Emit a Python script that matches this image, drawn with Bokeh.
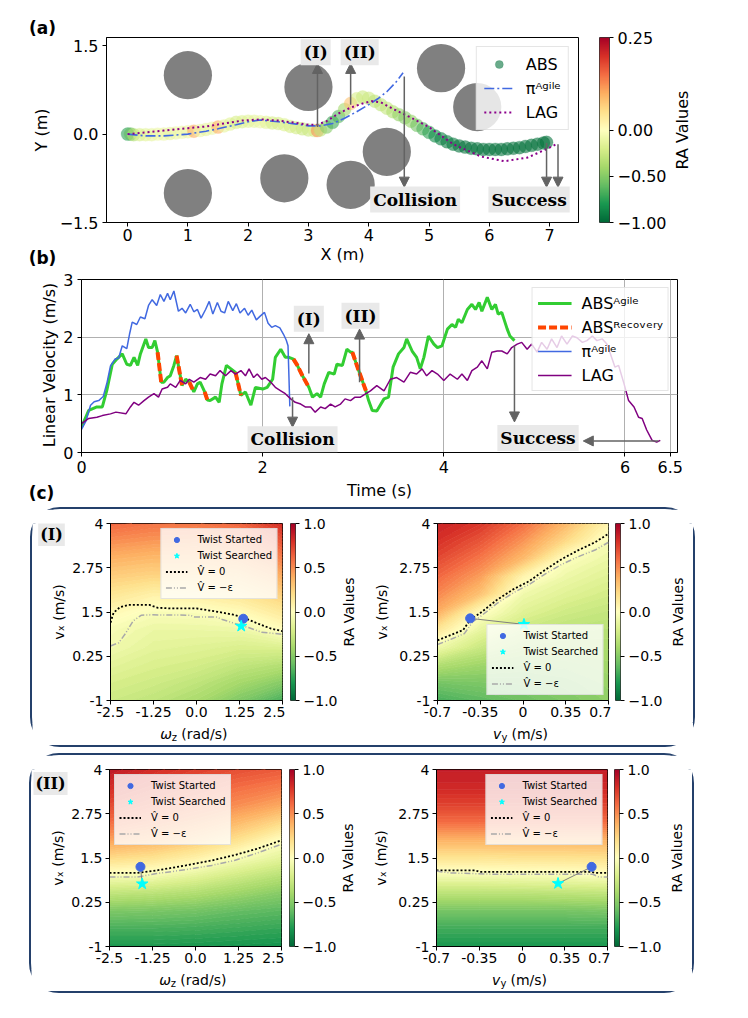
import math
import numpy as np
from bokeh.plotting import figure
from bokeh.layouts import row, column
from bokeh.models import (Range1d, FixedTicker, Label, Arrow, NormalHead, Legend,
                          LegendItem, LinearColorMapper, LinearAxis)
from bokeh.embed import file_html
from bokeh.resources import INLINE

FONT = "DejaVu Sans"
SERIF = "DejaVu Serif"
ARROW_COLOR = "#636363"
TAG_BG = "#e9e9e9"

# ---------------- colormap (RdYlGn reversed: low -> high) ----------------
CMAP_ANCHORS = ["#006837", "#1a9850", "#66bd63", "#a6d96a", "#d9ef8b", "#ffffbf",
                "#fee08b", "#fdae61", "#f46d43", "#d73027", "#a50026"]


def make_palette(anchors, n=256):
    rgb = np.array([[int(c[i:i + 2], 16) for i in (1, 3, 5)] for c in anchors], dtype=float)
    pos = np.linspace(0.0, 1.0, len(anchors))
    t = np.linspace(0.0, 1.0, n)
    cols = np.stack([np.interp(t, pos, rgb[:, k]) for k in range(3)], axis=1)
    return ["#%02x%02x%02x" % tuple(int(round(v)) for v in c) for c in cols]


PAL = make_palette(CMAP_ANCHORS)

# ---------------- panel (a) data ----------------
OBS_X = [1.0, 1.0, 3.0, 2.6, 3.7, 4.3, 5.2, 5.8]
OBS_Y = [1.0, -1.0, 0.8, -0.75, -0.86, -0.3, 1.12, 0.46]
OBS_R = 0.4

ABS_X = [0.00, 0.05, 0.10, 0.20, 0.30, 0.40, 0.50, 0.60, 0.70, 0.80, 0.90, 1.00, 1.10, 1.20,
         1.30, 1.40, 1.50, 1.60, 1.70, 1.80, 1.90, 2.00, 2.10, 2.20, 2.30, 2.40, 2.50, 2.60,
         2.70, 2.80, 2.90, 3.00, 3.10, 3.15, 3.20, 3.30, 3.40, 3.50, 3.60, 3.70, 3.80, 3.90,
         4.00, 4.10, 4.20, 4.30, 4.40, 4.50, 4.60, 4.70, 4.80, 4.90, 5.00, 5.10, 5.20, 5.30,
         5.40, 5.50, 5.60, 5.70, 5.80, 5.90, 6.00, 6.10, 6.20, 6.30, 6.40, 6.50, 6.60, 6.70,
         6.80, 6.90, 6.95]
ABS_Y = [0.00, 0.00, -0.01, -0.01, -0.01, -0.01, 0.00, 0.00, 0.01, 0.02, 0.03, 0.04, 0.05, 0.06,
         0.08, 0.10, 0.12, 0.14, 0.17, 0.20, 0.21, 0.22, 0.22, 0.21, 0.20, 0.19, 0.18, 0.16,
         0.13, 0.11, 0.09, 0.07, 0.06, 0.06, 0.07, 0.12, 0.20, 0.30, 0.42, 0.52, 0.60, 0.63,
         0.61, 0.56, 0.50, 0.44, 0.38, 0.33, 0.28, 0.22, 0.15, 0.09, 0.03, -0.03, -0.08, -0.13,
         -0.17, -0.20, -0.22, -0.24, -0.25, -0.26, -0.26, -0.26, -0.26, -0.25, -0.24, -0.23,
         -0.21, -0.19, -0.17, -0.15, -0.14]
ABS_RA = [-0.75, -0.6, -0.35, -0.2, -0.15, -0.12, -0.1, -0.1, -0.12, -0.1, -0.08, -0.1, 0.1,
          -0.1, -0.12, -0.1, 0.1, -0.12, -0.15, -0.2, -0.18, -0.15, -0.12, -0.1, -0.15, -0.2,
          -0.2, -0.18, -0.2, -0.22, -0.25, -0.25, -0.2, 0.12, -0.3, -0.5, -0.7, -0.65, -0.4,
          0.08, -0.2, -0.25, -0.25, -0.3, -0.3, -0.28, -0.35, -0.45, -0.5, -0.45, -0.55, -0.65,
          -0.75, -0.85, -0.9, -0.92, -0.92, -0.95, -0.95, -0.95, -0.95, -0.95, -0.95, -0.95,
          -0.95, -0.95, -0.95, -0.95, -0.95, -0.95, -0.95, -0.95, -0.95]

PI_X = [0.0, 0.3, 0.6, 1.0, 1.3, 1.5, 1.8, 2.0, 2.2, 2.5, 2.8, 3.0, 3.2, 3.4, 3.6, 3.8, 4.0,
        4.15, 4.3, 4.45, 4.57]
PI_Y = [0.0, -0.03, -0.03, 0.0, 0.05, 0.09, 0.16, 0.21, 0.24, 0.21, 0.17, 0.14, 0.14, 0.18,
        0.27, 0.38, 0.5, 0.6, 0.72, 0.88, 1.04]

LAG_X = [0.0, 0.3, 0.6, 1.0, 1.3, 1.6, 1.9, 2.2, 2.5, 2.8, 3.0, 3.15, 3.3, 3.5, 3.7, 3.9, 4.05,
         4.2, 4.4, 4.7, 5.0, 5.4, 5.86, 6.25, 6.63, 6.96, 7.13]
LAG_Y = [0.0, 0.03, 0.06, 0.1, 0.13, 0.18, 0.23, 0.25, 0.23, 0.19, 0.16, 0.16, 0.22, 0.35,
         0.45, 0.52, 0.56, 0.54, 0.43, 0.28, 0.12, -0.17, -0.38, -0.46, -0.40, -0.25, -0.16]

RA_MIN, RA_CENTER, RA_MAX = -1.0, 0.0, 0.25
CB_A_TICKS = [-1.0, -0.5, 0.0, 0.25]
CB_A_LABELS = ["\u22121.00", "\u22120.50", "0.00", "0.25"]

A_ARROWS = [(3.15, 0.12, 3.15, 1.2), (3.7, 0.5, 3.7, 1.2), (4.59, 0.98, 4.59, -0.9),
            (6.95, -0.15, 6.95, -0.9), (7.14, -0.17, 7.14, -0.9)]
A_TAGS = [(3.12, 1.39, "(I)"), (3.85, 1.39, "(II)"), (4.77, -1.11, "Collision"),
          (6.66, -1.11, "Success")]

# ---------------- panel (b) data ----------------
T_ABS = [0.00, 0.08, 0.17, 0.23, 0.28, 0.34, 0.39, 0.45, 0.50, 0.54,
         0.58, 0.62, 0.65, 0.71, 0.74, 0.78, 0.81, 0.84, 0.88, 0.91,
         0.95, 0.98, 1.02, 1.05, 1.11, 1.15, 1.19, 1.24, 1.28, 1.31,
         1.36, 1.39, 1.42, 1.48, 1.52, 1.55, 1.60, 1.65, 1.70, 1.76,
         1.81, 1.87, 1.92, 2.00, 2.05, 2.11, 2.14, 2.20, 2.25, 2.29,
         2.34, 2.38, 2.44, 2.51, 2.55, 2.60, 2.64, 2.68, 2.73, 2.79,
         2.82, 2.88, 2.93, 2.97, 2.99, 3.06, 3.14, 3.17, 3.21, 3.26,
         3.34, 3.39, 3.44, 3.50, 3.56, 3.59, 3.65, 3.70, 3.74, 3.78,
         3.83, 3.89, 3.93, 3.98, 4.04, 4.09, 4.13, 4.16, 4.20, 4.26,
         4.31, 4.35, 4.39, 4.42, 4.48, 4.53, 4.57, 4.60, 4.64, 4.70,
         4.73, 4.78]
V_ABS = [0.44, 0.73, 0.79, 0.79, 1.08, 1.53, 1.62, 1.71, 1.53, 1.51,
         1.65, 1.51, 1.71, 1.97, 1.82, 1.82, 1.94, 1.74, 1.22, 1.22,
         1.30, 1.33, 1.51, 1.68, 1.16, 1.27, 1.22, 1.05, 1.19, 1.22,
         1.05, 0.91, 0.90, 0.96, 0.87, 1.19, 1.51, 1.45, 1.39, 0.99,
         1.05, 0.82, 1.13, 1.10, 1.13, 1.27, 1.65, 1.79, 1.65, 1.65,
         1.62, 1.52, 1.33, 1.13, 0.96, 1.02, 0.96, 1.19, 1.39, 1.36,
         1.53, 1.51, 1.79, 1.74, 1.74, 1.42, 1.07, 0.90, 0.73, 0.72,
         0.93, 0.96, 1.48, 1.71, 1.82, 1.97, 1.76, 1.65, 1.45, 1.65,
         2.02, 1.88, 1.82, 1.85, 2.14, 2.22, 2.17, 2.31, 2.25, 2.48,
         2.57, 2.48, 2.60, 2.45, 2.69, 2.48, 2.57, 2.40, 2.43, 2.14,
         2.02, 1.94]
REC_T0 = [0.84, 1.05, 1.19, 1.36, 1.70, 2.34, 2.99]
REC_T1 = [0.88, 1.11, 1.24, 1.39, 1.76, 2.51, 3.14]

T_PI = [0.00, 0.05, 0.10, 0.14, 0.19, 0.24, 0.28, 0.32, 0.37, 0.41,
        0.45, 0.50, 0.53, 0.56, 0.61, 0.65, 0.70, 0.74, 0.78, 0.83,
        0.87, 0.91, 0.95, 0.98, 1.02, 1.07, 1.11, 1.15, 1.20, 1.24,
        1.28, 1.32, 1.37, 1.41, 1.45, 1.50, 1.54, 1.58, 1.62, 1.67,
        1.71, 1.75, 1.80, 1.84, 1.88, 1.93, 1.97, 2.02, 2.06, 2.10,
        2.14, 2.19, 2.23, 2.26, 2.28, 2.30]
V_PI = [0.40, 0.55, 0.82, 0.88, 0.90, 0.97, 1.20, 1.50, 1.62, 1.64,
        1.85, 1.80, 2.05, 2.26, 2.22, 2.35, 2.32, 2.55, 2.65, 2.55,
        2.74, 2.62, 2.76, 2.65, 2.80, 2.45, 2.50, 2.42, 2.57, 2.44,
        2.48, 2.33, 2.48, 2.62, 2.40, 2.60, 2.45, 2.42, 2.62, 2.46,
        2.58, 2.42, 2.50, 2.38, 2.47, 2.30, 2.36, 2.43, 2.24, 2.17,
        2.20, 2.16, 2.05, 1.95, 1.85, 0.80]

T_LAG = [0.00, 0.08, 0.17, 0.23, 0.32, 0.38, 0.49, 0.54, 0.58, 0.63,
         0.69, 0.74, 0.80, 0.85, 0.89, 0.95, 0.98, 1.04, 1.09, 1.15,
         1.19, 1.24, 1.31, 1.37, 1.42, 1.48, 1.53, 1.59, 1.65, 1.70,
         1.76, 1.81, 1.85, 1.90, 1.94, 1.99, 2.03, 2.09, 2.14, 2.20,
         2.25, 2.31, 2.36, 2.42, 2.47, 2.53, 2.58, 2.64, 2.69, 2.75,
         2.80, 2.86, 2.91, 2.97, 3.02, 3.08, 3.14, 3.19, 3.26, 3.34,
         3.41, 3.48, 3.56, 3.63, 3.70, 3.76, 3.81, 3.87, 3.93, 4.00,
         4.07, 4.15, 4.20, 4.26, 4.31, 4.37, 4.42, 4.48, 4.53, 4.59,
         4.64, 4.70, 4.75, 4.81, 4.86, 4.92, 4.97, 5.03, 5.08, 5.14,
         5.19, 5.25, 5.30, 5.36, 5.42, 5.47, 5.53, 5.58, 5.64, 5.69,
         5.75, 5.80, 5.84, 5.89, 5.93, 5.99, 6.04, 6.10, 6.15, 6.19,
         6.24, 6.30, 6.35, 6.39]
V_LAG = [0.50, 0.59, 0.61, 0.64, 0.67, 0.70, 0.67, 0.79, 0.87, 0.82,
         0.90, 0.96, 1.02, 0.96, 1.10, 1.13, 1.19, 1.13, 1.25, 1.19,
         1.27, 1.22, 1.30, 1.27, 1.36, 1.33, 1.42, 1.33, 1.42, 1.36,
         1.42, 1.33, 1.45, 1.30, 1.36, 1.27, 1.30, 1.22, 1.13, 1.07,
         1.02, 0.93, 0.87, 0.84, 0.79, 0.79, 0.70, 0.79, 0.76, 0.84,
         0.79, 0.84, 0.93, 0.90, 0.96, 0.96, 1.02, 1.07, 1.16, 1.07,
         1.27, 1.30, 1.22, 1.39, 1.36, 1.45, 1.33, 1.42, 1.36, 1.25,
         1.36, 1.27, 1.36, 1.25, 1.42, 1.48, 1.59, 1.45, 1.74, 1.76,
         1.76, 1.71, 1.82, 1.88, 1.91, 1.79, 1.88, 1.74, 1.91, 1.79,
         1.97, 1.82, 2.02, 1.88, 2.02, 1.99, 1.91, 1.94, 2.02, 1.94,
         1.97, 1.88, 1.71, 1.48, 1.51, 1.19, 0.90, 0.79, 0.61, 0.59,
         0.39, 0.21, 0.18, 0.21]

B_ARROWS = [(2.51, 1.37, 2.51, 2.06), (3.07, 1.22, 3.07, 2.14), (2.33, 0.96, 2.33, 0.44),
            (4.78, 1.85, 4.78, 0.53), (6.37, 0.2, 5.54, 0.2)]
B_TAGS = [(2.51, 2.32, "(I)"), (3.08, 2.37, "(II)"), (2.33, 0.23, "Collision"),
          (5.04, 0.25, "Success")]

# ---------------- panel (c) data ----------------
VX_SAMPLES = [-1.0, -0.5, 0.0, 0.5, 1.0, 1.5, 2.0, 2.5, 3.0, 3.5, 4.0]
WZ_SAMPLES = [-2.5, -1.25, 0.0, 1.25, 2.5]
VY_SAMPLES = [-0.7, -0.35, 0.0, 0.35, 0.7]

# rows: v_x from -1 (bottom) to 4 (top); columns: x samples
HM_I_WZ = [[-0.25, -0.30, -0.38, -0.52, -0.68],
           [-0.20, -0.24, -0.30, -0.40, -0.50],
           [-0.14, -0.19, -0.22, -0.29, -0.34],
           [-0.07, -0.14, -0.16, -0.19, -0.18],
           [-0.04, -0.10, -0.10, -0.09, 0.01],
           [0.05, -0.03, -0.02, 0.03, 0.14],
           [0.16, 0.09, 0.11, 0.16, 0.27],
           [0.27, 0.24, 0.24, 0.28, 0.40],
           [0.38, 0.35, 0.35, 0.40, 0.54],
           [0.50, 0.47, 0.46, 0.52, 0.68],
           [0.62, 0.58, 0.57, 0.62, 0.82]]
HM_I_VY = [[-0.68, -0.62, -0.57, -0.52, -0.47],
           [-0.55, -0.53, -0.52, -0.49, -0.44],
           [-0.35, -0.42, -0.45, -0.44, -0.41],
           [-0.08, -0.26, -0.36, -0.38, -0.37],
           [0.16, -0.12, -0.26, -0.31, -0.33],
           [0.40, 0.02, -0.16, -0.24, -0.28],
           [0.52, 0.32, -0.08, -0.16, -0.22],
           [0.62, 0.45, 0.07, -0.09, -0.16],
           [0.72, 0.57, 0.35, -0.01, -0.10],
           [0.80, 0.68, 0.48, 0.22, -0.04],
           [0.86, 0.78, 0.60, 0.36, 0.07]]
HM_II_WZ = [[-0.79, -0.79, -0.80, -0.81, -0.82],
            [-0.68, -0.68, -0.69, -0.71, -0.73],
            [-0.53, -0.54, -0.56, -0.60, -0.63],
            [-0.30, -0.32, -0.36, -0.43, -0.50],
            [-0.04, -0.06, -0.14, -0.24, -0.33],
            [0.22, 0.18, 0.09, -0.04, -0.14],
            [0.44, 0.38, 0.30, 0.18, 0.00],
            [0.60, 0.53, 0.45, 0.35, 0.22],
            [0.72, 0.64, 0.57, 0.50, 0.42],
            [0.82, 0.74, 0.67, 0.60, 0.55],
            [0.90, 0.82, 0.75, 0.70, 0.66]]
HM_II_VY = [[-0.80, -0.80, -0.80, -0.80, -0.80],
            [-0.70, -0.70, -0.70, -0.70, -0.70],
            [-0.55, -0.55, -0.55, -0.55, -0.54],
            [-0.32, -0.32, -0.32, -0.31, -0.30],
            [-0.06, -0.06, -0.05, -0.04, -0.02],
            [0.17, 0.17, 0.18, 0.18, 0.19],
            [0.38, 0.38, 0.38, 0.38, 0.38],
            [0.60, 0.60, 0.60, 0.60, 0.60],
            [0.74, 0.74, 0.74, 0.74, 0.74],
            [0.84, 0.84, 0.84, 0.84, 0.84],
            [0.88, 0.88, 0.88, 0.88, 0.88]]
CONTOUR_LEVELS = 81

V0_I_WZ_X = [-2.5, -2.41, -2.22, -1.98, -1.37, -1.13, -0.75, 0.0, 0.66, 1.04, 1.37, 1.79, 2.17, 2.5]
V0_I_WZ_Y = [1.20, 1.48, 1.64, 1.70, 1.70, 1.62, 1.60, 1.60, 1.50, 1.43, 1.34, 1.17, 1.03, 0.96]
VE_I_WZ_X = [-2.5, -2.26, -2.08, -1.84, -1.6, -1.32, -0.19, -0.05, 0.57, 0.75, 1.13, 1.51, 1.89, 2.5]
VE_I_WZ_Y = [0.54, 0.63, 0.87, 1.25, 1.41, 1.42, 1.41, 1.36, 1.36, 1.29, 1.17, 1.06, 0.93, 0.87]
V0_I_VY_X = [-0.7, -0.59, -0.49, -0.43, -0.35, -0.21, -0.08, 0.05, 0.19, 0.32, 0.45, 0.59, 0.7]
V0_I_VY_Y = [0.70, 0.85, 0.99, 1.29, 1.47, 1.85, 2.14, 2.37, 2.71, 3.0, 3.24, 3.47, 3.71]
VE_I_VY_X = [-0.7, -0.59, -0.48, -0.41, -0.35, -0.21, -0.08, 0.05, 0.19, 0.32, 0.45, 0.59, 0.7]
VE_I_VY_Y = [0.58, 0.73, 0.89, 1.23, 1.37, 1.75, 2.04, 2.28, 2.59, 2.85, 3.06, 3.25, 3.47]
V0_II_WZ_X = [-2.5, -1.7, -1.13, -0.28, 0.47, 1.13, 1.79, 2.5]
V0_II_WZ_Y = [1.08, 1.08, 1.15, 1.29, 1.43, 1.58, 1.76, 2.0]
VE_II_WZ_X = [-2.5, -1.7, -1.13, -0.28, 0.47, 1.13, 1.79, 2.5]
VE_II_WZ_Y = [0.96, 0.96, 1.06, 1.17, 1.29, 1.43, 1.64, 1.89]
V0_II_VY_X = [-0.7, -0.38, -0.35, 0.56, 0.6, 0.7]
V0_II_VY_Y = [1.15, 1.15, 1.11, 1.11, 1.08, 1.08]
VE_II_VY_X = [-0.7, -0.59, -0.22, 0.58, 0.63, 0.7]
VE_II_VY_Y = [1.13, 1.08, 1.04, 1.04, 0.96, 0.96]

TWIST_START = {"I_wz": (1.36, 1.31), "I_vy": (-0.433, 1.32), "II_wz": (-1.6, 1.25), "II_vy": (0.57, 1.25)}
TWIST_FOUND = {"I_wz": (1.30, 1.10), "I_vy": (0.008, 1.15), "II_wz": (-1.55, 0.77), "II_vy": (0.295, 0.78)}

WZ_TICKS = [-2.5, -1.25, 0.0, 1.25, 2.5]
WZ_LABELS = ["-2.5", "-1.25", "0.0", "1.25", "2.5"]
VY_TICKS = [-0.7, -0.35, 0.0, 0.35, 0.7]
VY_LABELS = ["-0.7", "-0.35", "0", "0.35", "0.7"]
VX_TICKS = [-1.0, 0.25, 1.5, 2.75, 4.0]
VX_LABELS = ["-1", "0.25", "1.5", "2.75", "4"]
CB_TICKS = [-1.0, -0.5, 0.0, 0.5, 1.0]
CB_LABELS = ["\u22121.0", "\u22120.5", "0.0", "0.5", "1.0"]


# ---------------- helpers ----------------
def two_slope(v):
    if v >= RA_CENTER:
        return 0.5 + 0.5 * (v - RA_CENTER) / (RA_MAX - RA_CENTER)
    return 0.5 - 0.5 * (RA_CENTER - v) / (RA_CENTER - RA_MIN)


def base_fig(width, height, xr, yr, left, right, top, bottom, **kw):
    p = figure(width=width, height=height, x_range=Range1d(*xr), y_range=Range1d(*yr),
               output_backend="svg", toolbar_location=None,
               min_border_left=left, min_border_right=right,
               min_border_top=top, min_border_bottom=bottom, **kw)
    p.background_fill_color = "white"
    p.border_fill_color = "white"
    p.outline_line_color = "black"
    p.outline_line_width = 1
    p.grid.visible = False
    return p


def style_axis(ax, fs, ticks, labels=None, lab_standoff=4, axis_standoff=5):
    ax.ticker = FixedTicker(ticks=ticks)
    if labels is not None:
        ax.major_label_overrides = dict(zip(ticks, labels))
    ax.major_label_text_font = FONT
    ax.major_label_text_font_size = fs
    ax.major_label_text_color = "black"
    ax.axis_label_text_font = FONT
    ax.axis_label_text_font_size = fs
    ax.axis_label_text_font_style = "normal"
    ax.axis_label_text_color = "black"
    ax.major_tick_in = 0
    ax.major_tick_out = 4
    ax.minor_tick_in = 0
    ax.minor_tick_out = 0
    ax.major_tick_line_color = "black"
    ax.axis_line_color = "black"
    ax.major_label_standoff = lab_standoff
    ax.axis_label_standoff = axis_standoff


def add_tag(p, x, y, text, fs="17px"):
    p.add_layout(Label(x=x, y=y, text=text, text_font=SERIF, text_font_style="bold",
                       text_font_size=fs, text_color="black", text_align="center",
                       text_baseline="middle", background_fill_color=TAG_BG,
                       background_fill_alpha=1.0, padding=3))


def add_arrow(p, x0, y0, x1, y1):
    p.add_layout(Arrow(end=NormalHead(size=10, fill_color=ARROW_COLOR, line_color=ARROW_COLOR),
                       x_start=x0, y_start=y0, x_end=x1, y_end=y1,
                       line_color=ARROW_COLOR, line_width=1.5))


def style_legend(leg, fs, gw, gh, lh, spacing, padding, margin, standoff):
    leg.label_text_font = FONT
    leg.label_text_font_size = fs
    leg.label_text_color = "black"
    leg.glyph_width = gw
    leg.glyph_height = gh
    leg.label_height = lh
    leg.spacing = spacing
    leg.padding = padding
    leg.margin = margin
    leg.label_standoff = standoff
    leg.border_line_color = "#cccccc"
    leg.border_line_width = 1
    leg.background_fill_color = "white"
    leg.background_fill_alpha = 0.8


def text_fig(x0, y0, w, h, top, bottom, specs, above=None, below=None):
    """Blank figure used only to carry texts.  Its frame spans page x [x0, x0+w] and page
    y [top, bottom]; specs are given in page pixel coordinates (y measured downwards).
    `above`/`below` = (text, standoff) put a bold letter as an empty axis' label."""
    p = figure(width=w, height=h, x_range=Range1d(x0, x0 + w), y_range=Range1d(-bottom, -top),
               output_backend="svg", toolbar_location=None,
               x_axis_location=None, y_axis_location=None,
               min_border_left=0, min_border_right=0,
               min_border_top=top - y0, min_border_bottom=y0 + h - bottom)
    p.outline_line_color = None
    p.background_fill_color = "white"
    p.border_fill_color = "white"
    p.grid.visible = False
    for s in specs:
        kw = dict(text_font=s.get("font", FONT), text_font_size=s.get("fs", "16px"),
                  text_font_style=s.get("style", "normal"), text_color="black",
                  angle=s.get("angle", 0.0), text_align=s.get("align", "center"),
                  text_baseline="middle")
        if s.get("bg"):
            kw.update(background_fill_color=s["bg"], background_fill_alpha=1.0, padding=2)
        p.add_layout(Label(x=s["x"], y=-s["y"], text=s["text"], **kw))
    for side, spec in (("above", above), ("below", below)):
        if spec is None:
            continue
        ax = LinearAxis(ticker=FixedTicker(ticks=[]), axis_label=spec[0],
                        axis_label_standoff=spec[1], axis_label_text_font=FONT,
                        axis_label_text_font_size="17px", axis_label_text_font_style="bold",
                        axis_label_text_color="black", axis_line_color=None,
                        major_tick_out=0, major_tick_in=0, minor_tick_out=0, minor_tick_in=0,
                        major_label_standoff=0)
        p.add_layout(ax, side)
    return p


def colorbar_fig(width, height, left, right, top, bottom, lo, hi, tick_pos, tick_labels, fs):
    p = base_fig(width, height, (0, 1), (lo, hi), left, right, top, bottom, y_axis_location="right")
    grad = np.linspace(lo, hi, 256).reshape(256, 1)
    p.image(image=[grad], x=0, y=lo, dw=1, dh=hi - lo,
            color_mapper=LinearColorMapper(palette=PAL, low=lo, high=hi))
    p.xaxis.visible = False
    style_axis(p.yaxis[0], fs, tick_pos, tick_labels, 4, 5)
    p.yaxis[0].axis_line_color = None
    p.outline_line_color = "#333333"
    return p


# ================= panel (a) =================  (row: page y 0..270, frame 37..225)
ROW_A_H = 270
fa = base_fig(533, ROW_A_H, (-0.35, 7.48), (-1.5, 1.64), 49, 11, 37, ROW_A_H - 225)
style_axis(fa.xaxis[0], "16px", [0, 1, 2, 3, 4, 5, 6, 7], None, 2, 1)
style_axis(fa.yaxis[0], "16px", [-1.5, 0.0, 1.5], ["\u22121.5", "0.0", "1.5"], 4, 8)
fa.xaxis[0].axis_label = "X (m)"

fa.circle(x=OBS_X, y=OBS_Y, radius=OBS_R, fill_color="#808080", line_color=None)
abs_colors = [PAL[int(round(two_slope(v) * 255))] for v in ABS_RA]
r_abs = fa.scatter(x=ABS_X, y=ABS_Y, size=13, fill_color=abs_colors, line_color=abs_colors,
                   fill_alpha=0.6, line_alpha=0.2, line_width=1)
r_pi_a = fa.line(PI_X, PI_Y, line_color="royalblue", line_width=1.6, line_dash="10 3 2 3")
r_lag_a = fa.line(LAG_X, LAG_Y, line_color="#8b008b", line_width=2, line_dash="2 3")
for a in A_ARROWS:
    add_arrow(fa, *a)
for x, y, t in A_TAGS:
    add_tag(fa, x, y, t)
leg_a = Legend(items=[LegendItem(label="ABS", renderers=[r_abs], index=len(ABS_X) - 1),
                      LegendItem(label="\u03c0\u1d2c\u1d4d\u2071\u02e1\u1d49", renderers=[r_pi_a]),
                      LegendItem(label="LAG", renderers=[r_lag_a])],
               location="top_right")
style_legend(leg_a, "16px", 30, 20, 20, 4, 7, 9, 12)
fa.add_layout(leg_a)

txt_a1 = text_fig(0, 0, 28, ROW_A_H, 37, 225, [])
txt_a2 = text_fig(28, 0, 28, ROW_A_H, 37, 225,
                  [{"x": 40.5, "y": 131, "text": "Y (m)", "fs": "16px", "angle": math.pi / 2}],
                  above=("(a)", 0), below=("(b)", 25))
cba = colorbar_fig(82, ROW_A_H, 10, 62, 37, ROW_A_H - 225, 0.0, 1.0,
                   [two_slope(v) for v in CB_A_TICKS], CB_A_LABELS, "16px")
txt_ra_a = text_fig(671, 0, 26, ROW_A_H, 37, 225,
                    [{"x": 681.7, "y": 131, "text": "RA Values", "fs": "16px", "angle": math.pi / 2}])

# ================= panel (b) =================  (row: page y 270..505, frame 279..453)
B_Y0, B_H, B_TOP, B_BOT = ROW_A_H, 235, 279, 453
fb = base_fig(627, B_H, (0, 6.58), (0, 3), 21, 10, B_TOP - B_Y0, B_Y0 + B_H - B_BOT)
style_axis(fb.xaxis[0], "16px", [0, 2, 4, 6, 6.5], ["0", "2", "4", "6", "6.5"], 4, 5)
style_axis(fb.yaxis[0], "16px", [0, 1, 2, 3], None, 4, 8)
fb.xaxis[0].axis_label = "Time (s)"
fb.xgrid.visible = True
fb.ygrid.visible = True
for g in (fb.xgrid[0], fb.ygrid[0]):
    g.grid_line_color = "#b0b0b0"
    g.grid_line_width = 1

r_green = fb.line(T_ABS, V_ABS, line_color="limegreen", line_width=3)
rec_xs, rec_ys = [], []
for a, b in zip(REC_T0, REC_T1):
    idx = [i for i, t in enumerate(T_ABS) if a - 1e-9 <= t <= b + 1e-9]
    rec_xs.append([T_ABS[i] for i in idx])
    rec_ys.append([V_ABS[i] for i in idx])
r_red = fb.multi_line(rec_xs, rec_ys, line_color="orangered", line_width=4, line_dash="8 3")
r_blue = fb.line(T_PI, V_PI, line_color="royalblue", line_width=1.5)
r_lag_b = fb.line(T_LAG, V_LAG, line_color="purple", line_width=1.5)
for a in B_ARROWS:
    add_arrow(fb, *a)
for x, y, t in B_TAGS:
    add_tag(fb, x, y, t)
leg_b = Legend(items=[LegendItem(label="ABS\u1d2c\u1d4d\u2071\u02e1\u1d49", renderers=[r_green]),
                      LegendItem(label="ABS\u1d3f\u1d49\u1d9c\u1d52\u1d5b\u1d49\u02b3\u02b8", renderers=[r_red]),
                      LegendItem(label="\u03c0\u1d2c\u1d4d\u2071\u02e1\u1d49", renderers=[r_blue]),
                      LegendItem(label="LAG", renderers=[r_lag_b])],
               location="top_right")
style_legend(leg_b, "16px", 34, 20, 20, 4, 5, 8, 10)
fb.add_layout(leg_b)

txt_b1 = text_fig(0, B_Y0, 22, B_H, B_TOP, B_BOT, [])
txt_b2 = text_fig(22, B_Y0, 38, B_H, B_TOP, B_BOT,
                  [{"x": 49, "y": 365, "text": "Linear Velocity (m/s)", "fs": "16px",
                    "angle": math.pi / 2}],
                  below=("(c)", 30))

# ================= panel (c) =================
LEV = np.linspace(-1.0, 1.0, CONTOUR_LEVELS)
LEV_FILL = [PAL[int(round(((LEV[i] + LEV[i + 1]) / 2 + 1) / 2 * 255))] for i in range(len(LEV) - 1)]
LEV_LINE = [PAL[int(round((v + 1) / 2 * 255))] for v in LEV]


def heatmap_fig(width, left, grid, xs, xticks, xlabels, v0x, v0y, vex, vey, start, found, legend_loc):
    right, top, bottom, height = 3, 14, 22, 213
    p = base_fig(width, height, (xs[0], xs[-1]), (VX_SAMPLES[0], VX_SAMPLES[-1]),
                 left, right, top, bottom)
    p.contour(x=xs, y=VX_SAMPLES, z=np.array(grid, dtype=float), levels=LEV,
              fill_color=LEV_FILL, line_color=LEV_LINE, line_width=1)
    style_axis(p.xaxis[0], "14px", xticks, xlabels, 2, 3)
    style_axis(p.yaxis[0], "14px", VX_TICKS, VX_LABELS, 3, 3)
    r_v0 = p.line(v0x, v0y, line_color="black", line_width=1.8, line_dash="2 2")
    r_ve = p.line(vex, vey, line_color="darkgray", line_width=1.5, line_dash="6 2 1 2 1 2")
    p.line([start[0], found[0]], [start[1], found[1]], line_color="gray", line_width=1)
    r_st = p.scatter([start[0]], [start[1]], marker="circle", size=9,
                     fill_color="royalblue", line_color="royalblue")
    r_fd = p.scatter([found[0]], [found[1]], marker="star", size=12,
                     fill_color="cyan", line_color="cyan")
    leg = Legend(items=[LegendItem(label="Twist Started", renderers=[r_st]),
                        LegendItem(label="Twist Searched", renderers=[r_fd]),
                        LegendItem(label="V\u0302 = 0", renderers=[r_v0]),
                        LegendItem(label="V\u0302 = \u2212\u03b5", renderers=[r_ve])],
                 location=legend_loc)
    style_legend(leg, "10px", 22, 13, 13, 3, 4, 5, 10)
    p.add_layout(leg)
    return p


def composite_label(cx, cy, parts):
    total = sum(w for _, _, _, w in parts)
    x = cx - total / 2
    specs = []
    for text, fs, dy, w in parts:
        specs.append({"x": x, "y": cy + dy, "text": text, "fs": fs, "align": "left",
                      "style": "italic" if text in ("\u03c9", "v") else "normal"})
        x += w
    return specs


WZ_LAB = [("\u03c9", "14px", 0, 11.5), ("z", "10px", 4, 9.5), ("(rad/s)", "14px", 0, 46.5)]
VY_LAB = [("v", "14px", 0, 8.5), ("y", "10px", 4, 10.0), ("(m/s)", "14px", 0, 36.5)]
YLAB = "v\u2093 (m/s)"


def build_box(ox, oy, tag, tag_dy, grids, lines, margin):
    """ox, oy: page position of the box content (inside its 2px border)."""
    g_wz, g_vy = grids
    (v0a, v0b, vea, veb), (v1a, v1b, vfa, vfb) = lines
    key = tag.strip("()")
    top, bot = oy + 14, oy + 191
    mid = (top + bot) / 2
    txt_l = text_fig(ox, oy, 37, 213, top, bot, [
        {"x": ox + 19, "y": oy + tag_dy, "text": tag, "fs": "16px", "style": "bold",
         "font": SERIF, "bg": TAG_BG},
        {"x": ox + 26, "y": mid, "text": YLAB, "fs": "14px", "angle": math.pi / 2},
    ])
    hm_a = heatmap_fig(216, 36, g_wz, WZ_SAMPLES, WZ_TICKS, WZ_LABELS, v0a, v0b, vea, veb,
                       TWIST_START[key + "_wz"], TWIST_FOUND[key + "_wz"],
                       "top_right" if key == "I" else "top_left")
    cb_a = colorbar_fig(55, 213, 5, 37, 14, 22, -1.0, 1.0, CB_TICKS, CB_LABELS, "14px")
    ra_a = text_fig(ox + 308, oy, 22, 213, top, bot,
                    [{"x": ox + 316.3, "y": mid, "text": "RA Values", "fs": "14px",
                      "angle": math.pi / 2}])
    txt_l2 = text_fig(ox + 330, oy, 34, 213, top, bot,
                      [{"x": ox + 349, "y": mid, "text": YLAB, "fs": "14px",
                        "angle": math.pi / 2}])
    hm_b = heatmap_fig(215, 36, g_vy, VY_SAMPLES, VY_TICKS, VY_LABELS, v1a, v1b, vfa, vfb,
                       TWIST_START[key + "_vy"], TWIST_FOUND[key + "_vy"],
                       "bottom_right" if key == "I" else "top_right")
    cb_b = colorbar_fig(54, 213, 4, 37, 14, 22, -1.0, 1.0, CB_TICKS, CB_LABELS, "14px")
    ra_b = text_fig(ox + 633, oy, 28, 213, top, bot,
                    [{"x": ox + 645.3, "y": mid, "text": "RA Values", "fs": "14px",
                      "angle": math.pi / 2}])
    xl = text_fig(ox, oy + 213, 661, 23, oy + 213, oy + 236,
                  composite_label(ox + 161.5, oy + 224, WZ_LAB) +
                  composite_label(ox + 488, oy + 224, VY_LAB))
    return column(row(txt_l, hm_a, cb_a, ra_a, txt_l2, hm_b, cb_b, ra_b), xl,
                  styles={"border": "2px solid #24406b", "border-radius": "30px"}, margin=margin)


box_i = build_box(32, 509, "(I)", 25, (HM_I_WZ, HM_I_VY),
                  ((V0_I_WZ_X, V0_I_WZ_Y, VE_I_WZ_X, VE_I_WZ_Y),
                   (V0_I_VY_X, V0_I_VY_Y, VE_I_VY_X, VE_I_VY_Y)), (2, 0, 0, 30))
box_ii = build_box(31, 755, "(II)", 28, (HM_II_WZ, HM_II_VY),
                   ((V0_II_WZ_X, V0_II_WZ_Y, VE_II_WZ_X, VE_II_WZ_Y),
                    (V0_II_VY_X, V0_II_VY_Y, VE_II_VY_X, VE_II_VY_Y)), (6, 0, 0, 29))

layout = column(row(txt_a1, txt_a2, fa, cba, txt_ra_a), row(txt_b1, txt_b2, fb), box_i, box_ii)

with open("out.html", "w") as f:
    f.write(file_html(layout, INLINE, "chart"))
